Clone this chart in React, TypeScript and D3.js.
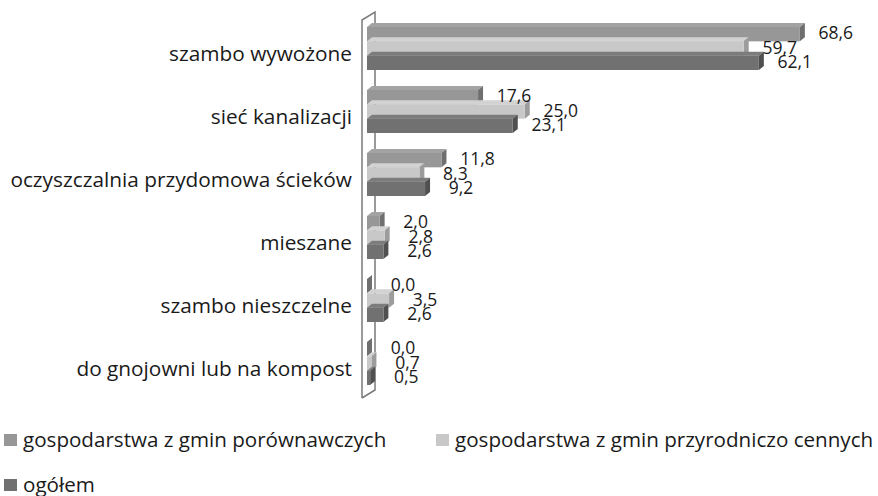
import * as d3 from "d3";
import { useEffect, useRef } from "react";

const categories = [
  "szambo wywożone",
  "sieć kanalizacji",
  "oczyszczalnia przydomowa ścieków",
  "mieszane",
  "szambo nieszczelne",
  "do gnojowni lub na kompost",
];

const seriesNames = [
  "gospodarstwa z gmin porównawczych",
  "gospodarstwa z gmin przyrodniczo cennych",
  "ogółem",
];

const porownawcze = [68.6, 17.6, 11.8, 2.0, 0.0, 0.0];
const przyrodniczoCenne = [59.7, 25.0, 8.3, 2.8, 3.5, 0.7];
const ogolem = [62.1, 23.1, 9.2, 2.6, 2.6, 0.5];

const seriesValues = [porownawcze, przyrodniczoCenne, ogolem];

const colors = [
  { front: "#979797", top: "#a3a3a3", side: "#6f6f6f" },
  { front: "#c8c8c8", top: "#d2d2d2", side: "#9c9c9c" },
  { front: "#717171", top: "#7c7c7c", side: "#505050" },
];

const FONT = "'Open Sans', sans-serif";

function Chart() {
  const svgRef = useRef<SVGSVGElement>(null);
  const width = 878;
  const height = 496;

  useEffect(() => {
    if (!svgRef.current) return;
    const svg = d3.select(svgRef.current);
    svg.selectAll("*").remove();

    const x = d3.scaleLinear().domain([0, 70]).range([367, 367 + 70 * 6.31]);
    const y = d3.scaleBand<string>().domain(categories).range([17, 395]);
    const sub = d3
      .scaleBand<number>()
      .domain([0, 1, 2])
      .range([y.bandwidth() / 2 - 21.5, y.bandwidth() / 2 + 21.5]);

    // 3D wall (left side)
    const wall = { fx: 362, top: 20, bottom: 398, dx: 13, dy: -8 };
    svg
      .append("path")
      .attr(
        "d",
        `M${wall.fx},${wall.bottom}V${wall.top}L${wall.fx + wall.dx},${wall.top + wall.dy}V${wall.bottom + wall.dy}L${wall.fx},${wall.bottom}`,
      )
      .style("fill", "none")
      .style("stroke", "#7a7a7a")
      .style("stroke-width", 1.5);

    // bars
    const depth = { dx: 5, dy: -4 };
    const g = svg.append("g");
    categories.forEach((cat, ci) => {
      seriesValues.forEach((vals, si) => {
        const v = vals[ci];
        const x0 = x(0);
        const x1 = x(v);
        const y0 = (y(cat) ?? 0) + (sub(si) ?? 0);
        const h = sub.bandwidth();
        const c = colors[si];
        const bar = g.append("g");
        // top face
        bar
          .append("path")
          .attr(
            "d",
            `M${x0},${y0}L${x0 + depth.dx},${y0 + depth.dy}L${x1 + depth.dx},${y0 + depth.dy}L${x1},${y0}Z`,
          )
          .style("fill", c.top);
        // side face
        bar
          .append("path")
          .attr(
            "d",
            `M${x1},${y0}L${x1 + depth.dx},${y0 + depth.dy}L${x1 + depth.dx},${y0 + h + depth.dy}L${x1},${y0 + h}Z`,
          )
          .style("fill", c.side);
        // front face
        bar
          .append("rect")
          .attr("x", x0)
          .attr("y", y0)
          .attr("width", Math.max(0, x1 - x0))
          .attr("height", h)
          .style("fill", c.front);
      });
    });

    // value labels
    categories.forEach((cat, ci) => {
      seriesValues.forEach((vals, si) => {
        const v = vals[ci];
        const y0 = (y(cat) ?? 0) + (sub(si) ?? 0);
        svg
          .append("text")
          .attr("x", x(v) + 36)
          .attr("y", y0 + sub.bandwidth() / 2 - 1)
          .attr("dy", "0.35em")
          .attr("text-anchor", "middle")
          .style("font-family", FONT)
          .style("font-size", "17.5px")
          .style("fill", "#1a1a1a")
          .text(d3.format(".1f")(v).replace(".", ","));
      });
    });

    // category labels
    categories.forEach((cat) => {
      svg
        .append("text")
        .attr("x", 352)
        .attr("y", (y(cat) ?? 0) + y.bandwidth() / 2 + 5.5)
        .attr("dy", "0.35em")
        .attr("text-anchor", "end")
        .style("font-family", FONT)
        .style("font-size", "20.8px")
        .style("fill", "#1a1a1a")
        .text(cat);
    });

    // legend
    const legendPos = [
      { x: 4, y: 440 },
      { x: 436, y: 440 },
      { x: 4, y: 485 },
    ];
    seriesNames.forEach((name, i) => {
      const p = legendPos[i];
      const item = svg.append("g").attr("transform", `translate(${p.x},${p.y})`);
      item
        .append("rect")
        .attr("x", 0)
        .attr("y", -6)
        .attr("width", 13)
        .attr("height", 12)
        .style("fill", colors[i].front);
      item
        .append("text")
        .attr("x", 19)
        .attr("y", 0)
        .attr("dy", "0.35em")
        .style("font-family", FONT)
        .style("font-size", "20.6px")
        .style("fill", "#1a1a1a")
        .text(name);
    });
  }, []);

  return <svg ref={svgRef} width={width} height={height} style={{ display: "block" }} />;
}

export default function App() {
  return (
    <div style={{ position: "absolute", left: 0, top: 0, background: "#fff" }}>
      <Chart />
    </div>
  );
}
